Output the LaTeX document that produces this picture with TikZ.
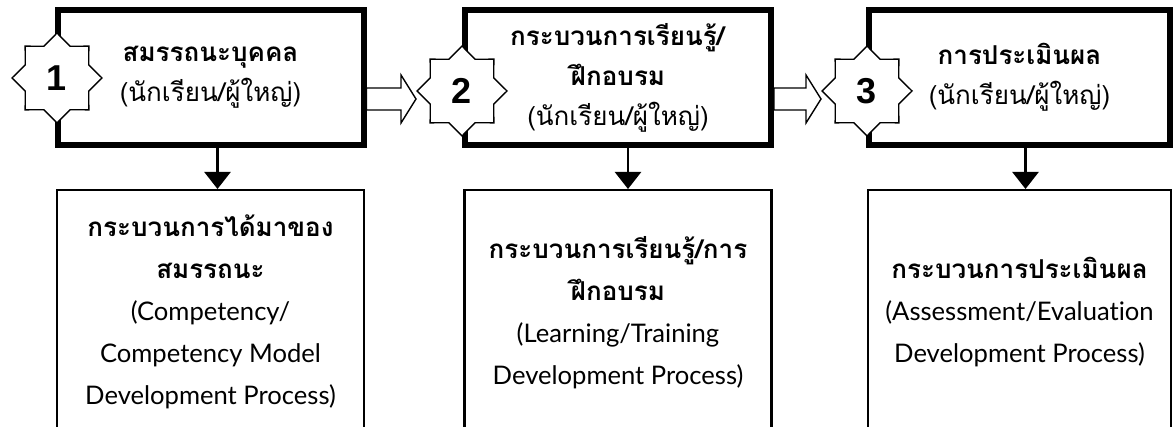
\documentclass[tikz,border=0pt]{standalone}
\usepackage{fontspec}
\setmainfont{Liberation Sans}
\newfontfamily\thaifont[Script=Thai]{Loma}
\newfontfamily\latinfont[Ligatures=NoCommon]{Lato}
\usepackage{tikz}
\usetikzlibrary{shapes,arrows,arrows.meta,positioning,calc}

\newcommand{\eng}[1]{{\latinfont\fontsize{12.8}{21}\selectfont #1}}

\begin{document}
\begin{tikzpicture}[x=0.5pt, y=-0.5pt,
  topbox/.style={rectangle, draw=black, line width=3pt, fill=white, minimum width=153pt, minimum height=67.5pt, inner sep=0pt, align=center, font=\thaifont\fontsize{13}{20}\selectfont},
  lowbox/.style={rectangle, draw=black, line width=1.2pt, fill=white, minimum width=153.5pt, minimum height=122pt, inner sep=0pt, align=center, font=\thaifont\fontsize{13}{21}\selectfont},
  numstar/.style={star, star points=8, star point ratio=1.31, draw=black, line width=0.7pt, fill=white, minimum size=45pt, inner sep=0pt, font=\bfseries\fontsize{18}{18}\selectfont},
  flow/.style={-{Triangle[length=8.5pt,width=13pt]}, line width=1.2pt},
  blockarrow/.style={draw=black, line width=0.7pt, fill=white,
    to path={let \p1=(\tikztostart), \p2=(\tikztotarget) in
      (\x1,\y2+5.5pt) -- (\x2-7.5pt,\y2+5.5pt) -- (\x2-7.5pt,\y2+12pt) -- (\x2,\y2)
      -- (\x2-7.5pt,\y2-12pt) -- (\x2-7.5pt,\y2-5.5pt) -- (\x1,\y2-5.5pt) -- cycle}}
]
\useasboundingbox (0,0) rectangle (1173,427);
\clip (0,0) rectangle (1173,427);

% upper row
\node (box1) [topbox] at (210.5,77.5) {\textbf{สมรรถนะบุคคล}\\(นักเรียน/ผู้ใหญ่)};
\node (box2) [topbox] at (618,77.5) {\textbf{กระบวนการเรียนรู้/}\\\textbf{ฝึกอบรม}\\(นักเรียน/ผู้ใหญ่)};
\node (box3) [topbox, minimum width=150.5pt] at (1019.5,77.5) {\textbf{การประเมินผล}\\(นักเรียน/ผู้ใหญ่)};

% lower row
\node (low1) [lowbox, below=20.5pt of box1] {\textbf{กระบวนการได้มาของ}\\\textbf{สมรรถนะ}\\\eng{(Competency/}\\\eng{Competency Model}\\\eng{Development Process)}};
\node (low2) [lowbox, below=20.5pt of box2] {\textbf{กระบวนการเรียนรู้/การ}\\\textbf{ฝึกอบรม}\\\eng{(Learning/Training}\\\eng{Development Process)}};
\node (low3) [lowbox, minimum width=151.5pt, below=20.5pt of box3] {\textbf{กระบวนการประเมินผล}\\\eng{(Assessment/Evaluation}\\\eng{Development Process)}};

\draw[flow] ([xshift=3.5pt]box1.south) -- ([xshift=3.5pt]low1.north);
\draw[flow] ([xshift=5pt]box2.south) -- ([xshift=5pt]low2.north);
\draw[flow] ([xshift=3pt]box3.south) -- ([xshift=3pt]low3.north);

% numbered stars
\node (star1) [numstar] at (57,78) {1};
\node (star2) [numstar] at (462,91) {2};
\node (star3) [numstar] at (867,91) {3};

\draw[blockarrow] (box1.east) to ([yshift=-4pt]star2.west);
\draw[blockarrow] (box2.east) to ([yshift=-4pt]star3.west);
\end{tikzpicture}
\end{document}
